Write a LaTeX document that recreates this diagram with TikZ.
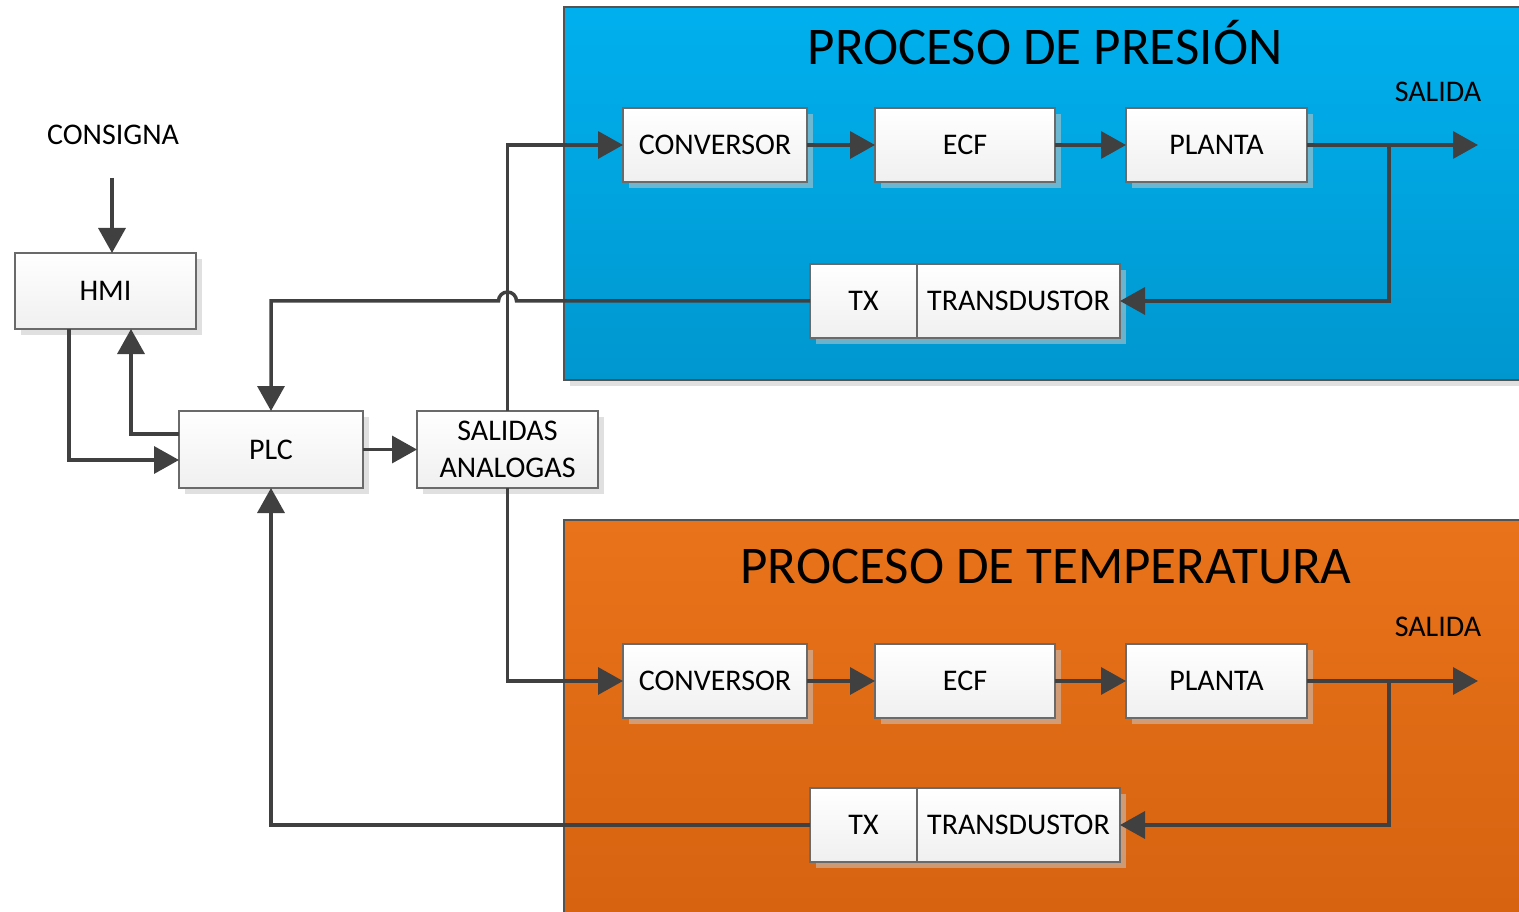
\documentclass[tikz,border=0pt]{standalone}
\usepackage{fontspec}
\setmainfont{Carlito}
\usetikzlibrary{arrows.meta,shadows,calc}
\definecolor{wire}{HTML}{404040}
\definecolor{blkline}{HTML}{6A6A6A}
\definecolor{blueTop}{HTML}{00B0EE}
\definecolor{blueBot}{HTML}{0097CF}
\definecolor{orangeTop}{HTML}{E9731A}
\definecolor{orangeBot}{HTML}{D66210}
\tikzset{
  blk/.style={draw=blkline, line width=1.3pt, inner sep=0pt, outer sep=0pt,
    top color=white, bottom color=gray!12,
    font=\fontsize{30}{36}\selectfont, align=center,
    drop shadow={shadow xshift=6pt, shadow yshift=-6pt, fill=gray!45, opacity=0.55}},
  panel/.style={draw=wire!90, line width=1.3pt,
    drop shadow={shadow xshift=6pt, shadow yshift=-6pt, fill=gray!45, opacity=0.55}},
  conn/.style={draw=wire, line width=3.5pt, -{Triangle[length=25pt,width=27pt]}},
  lbl/.style={font=\fontsize{30}{36}\selectfont, inner sep=0pt},
  ttl/.style={font=\fontsize{53}{60}\selectfont, inner sep=0pt, anchor=base}
}
\begin{document}
\begin{tikzpicture}[x=1pt,y=-1pt]
\useasboundingbox (0,0) rectangle (1519,912);

% process panels
\path[panel, top color=blueTop, bottom color=blueBot] (564,7) rectangle (1540,380);
\path[panel, top color=orangeTop, bottom color=orangeBot] (564,520) rectangle (1540,930);
\node[ttl] (tp) at (1045,65) {PROCESO DE PRESIÓN};
\node[ttl] (tt) at (1046,583) {PROCESO DE TEMPERATURA};

% control side
\node[lbl] (consigna) at (113,135) {CONSIGNA};
\node[blk, minimum width=181pt, minimum height=76pt] (hmi) at (105.5,291) {HMI};
\node[blk, minimum width=184pt, minimum height=77pt] (plc) at (271,449.5) {PLC};
\node[blk, minimum width=181pt, minimum height=77pt] (sal) at (507.5,449.5)
  {SALIDAS\\[1pt]ANALOGAS};

% pressure loop
\node[blk, minimum width=184pt, minimum height=74pt] (conv1) at (715,145) {CONVERSOR};
\node[blk, minimum width=180pt, minimum height=74pt] (ecf1) at (965,145) {ECF};
\node[blk, minimum width=181pt, minimum height=74pt] (pl1) at (1216.5,145) {PLANTA};
\node[blk, minimum width=107pt, minimum height=74pt] (tx1) at (863.5,301) {TX};
\node[blk, minimum width=203pt, minimum height=74pt] (tr1) at (1018.5,301) {TRANSDUSTOR};
\node[lbl] (out1) at (1438,92) {SALIDA};

% temperature loop
\node[blk, minimum width=184pt, minimum height=74pt] (conv2) at (715,681) {CONVERSOR};
\node[blk, minimum width=180pt, minimum height=74pt] (ecf2) at (965,681) {ECF};
\node[blk, minimum width=181pt, minimum height=74pt] (pl2) at (1216.5,681) {PLANTA};
\node[blk, minimum width=107pt, minimum height=74pt] (tx2) at (863.5,825) {TX};
\node[blk, minimum width=203pt, minimum height=74pt] (tr2) at (1018.5,825) {TRANSDUSTOR};
\node[lbl] (out2) at (1438,627) {SALIDA};

% setpoint and HMI/PLC exchange
\coordinate (cs) at (112,178);
\draw[conn] (cs) -- (cs |- hmi.north);
\draw[conn] ([xshift=54pt]hmi.south west) |- ([yshift=-10.5pt]plc.west);
\draw[conn] ([yshift=15.5pt]plc.west) -| ([xshift=116pt]hmi.south west);
\draw[conn] (plc.east) -- (sal.west);

% analog outputs to both converters
\draw[conn] (sal.north) |- (conv1.west);
\draw[conn] (sal.south) |- (conv2.west);

% pressure chain
\draw[conn] (conv1.east) -- (ecf1.west);
\draw[conn] (ecf1.east) -- (pl1.west);
\coordinate (o1) at (1478,145);
\draw[conn] (pl1.east) -- (o1);
\draw[conn] ([xshift=82pt]pl1.east) |- (tr1.east);
\draw[conn] (tx1.west) -- ([xshift=9pt]sal.north |- tx1.west)
  arc[start angle=0, end angle=-180, radius=9] -| (plc.north);

% temperature chain
\draw[conn] (conv2.east) -- (ecf2.west);
\draw[conn] (ecf2.east) -- (pl2.west);
\coordinate (o2) at (1478,681);
\draw[conn] (pl2.east) -- (o2);
\draw[conn] ([xshift=82pt]pl2.east) |- (tr2.east);
\draw[conn] (tx2.west) -| (plc.south);
\end{tikzpicture}
\end{document}
